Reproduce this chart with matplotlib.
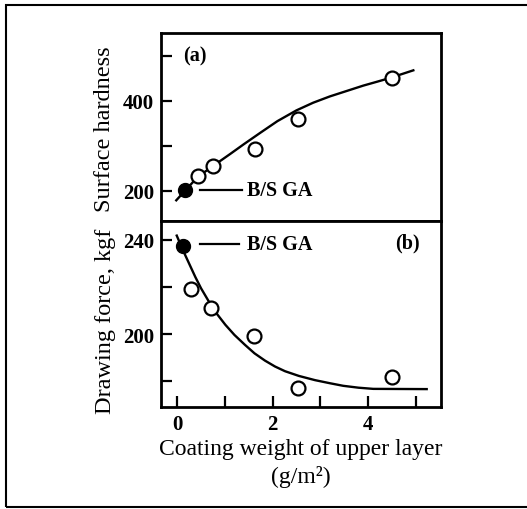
import matplotlib
matplotlib.use("Agg")
import matplotlib.pyplot as plt
from matplotlib.patches import Rectangle

# ---- data ----
# (a) surface hardness
bsga_a_x = [0.17]
bsga_a_y = [201]
hard_x = [0.43, 0.75, 1.63, 2.54, 4.50]
hard_y = [234, 255, 293, 360, 450]
hard_fit_x = [-0.02, 0.17, 0.43, 0.76, 1.11, 1.40, 1.74, 2.10, 2.50, 2.85,
              3.20, 3.55, 3.90, 4.20, 4.46, 4.95]
hard_fit_y = [179, 201, 231, 256, 282, 304, 329, 355, 379, 396,
              410, 422, 434, 443, 451, 468]

# (b) drawing force
bsga_b_x = [0.13]
bsga_b_y = [237.3]
force_x = [0.29, 0.71, 1.60, 2.54, 4.51]
force_y = [219.0, 211.0, 199.3, 177.1, 181.6]
force_fit_x = [-0.01, 0.08, 0.17, 0.38, 0.50, 0.66, 0.83, 1.01, 1.20, 1.42,
               1.62, 1.84, 2.05, 2.26, 2.55, 2.89, 3.20, 3.48, 3.80, 4.11, 5.23]
force_fit_y = [241.8, 237.5, 233.4, 224.2, 219.4, 213.9, 208.6, 203.9, 199.6, 195.4,
               191.8, 188.7, 186.2, 184.2, 182.2, 180.4, 179.1, 178.0, 177.2, 176.7, 176.6]

x_major = [0, 2, 4]
x_minor = [1, 3, 5]
a_major = [200, 400]
a_minor = [300, 500]
b_major = [200, 240]
b_minor = [180, 220]

plt.rcParams['font.family'] = ['Liberation Serif', 'DejaVu Serif']

W, H = 527, 510
fig = plt.figure(figsize=(W / 100, H / 100), dpi=100)

def frac(x0, y0, x1, y1):
    return [x0 / W, 1 - y1 / H, (x1 - x0) / W, (y1 - y0) / H]

ax1 = fig.add_axes(frac(161, 34, 441, 222))
ax2 = fig.add_axes(frac(161, 222, 441, 408))

for ax in (ax1, ax2):
    for s in ax.spines.values():
        s.set_linewidth(2.0)
    ax.set_xlim(-0.34, 5.53)
    ax.tick_params(which='both', direction='in', length=8, width=1.6,
                   labelsize=15, pad=5)
    ax.tick_params(top=False, right=False)

ax1.set_ylim(133, 551)
ax2.set_ylim(169, 248)

# ticks
ax1.set_xticks([])
ax1.set_yticks(a_major)
ax1.set_yticks(a_minor, minor=True)
ax2.set_xticks(x_major)
ax2.set_xticks(x_minor, minor=True)
ax2.set_yticks(b_major)
ax2.set_yticks(b_minor, minor=True)
for ax in (ax1, ax2):
    for lab in ax.get_xticklabels() + ax.get_yticklabels():
        lab.set_fontweight('bold')

# (a)
ax1.plot(hard_fit_x, hard_fit_y, color='black', lw=1.7, solid_joinstyle='round')
ax1.plot(hard_x, hard_y, 'o', ms=10, mfc='white', mec='black', mew=1.6)
ax1.plot(bsga_a_x, bsga_a_y, 'o', ms=10, mfc='black', mec='black')
ax1.plot([0.48, 1.36], [bsga_a_y[0], bsga_a_y[0]], color='black', lw=1.6)
ax1.text(1.46, bsga_a_y[0], 'B/S GA', fontsize=14.5, fontweight='bold',
         ha='left', va='center')
ax1.text(0.13, 502, '(a)', fontsize=14.5, fontweight='bold', ha='left', va='center')

# (b)
ax2.plot(force_fit_x, force_fit_y, color='black', lw=1.7, solid_joinstyle='round')
ax2.plot(force_x, force_y, 'o', ms=10, mfc='white', mec='black', mew=1.6)
ax2.plot(bsga_b_x, bsga_b_y, 'o', ms=10, mfc='black', mec='black')
ax2.plot([0.48, 1.30], [238.3, 238.3], color='black', lw=1.6)
ax2.text(1.46, 238.3, 'B/S GA', fontsize=14.5, fontweight='bold',
         ha='left', va='center')
ax2.text(5.09, 239, '(b)', fontsize=14.5, fontweight='bold', ha='right', va='center')

# labels
fig.text(105 / W, 1 - 129 / H, 'Surface hardness', rotation=90,
         ha='center', va='center', fontsize=17.5)
fig.text(105 / W, 1 - 321 / H, 'Drawing force, kgf', rotation=90,
         ha='center', va='center', fontsize=17.5)
fig.text(301 / W, 1 - 450 / H, 'Coating weight of upper layer',
         ha='center', va='center', fontsize=17)
fig.text(301 / W, 1 - 477 / H, '(g/m²)',
         ha='center', va='center', fontsize=17)

# outer frame
fig.patches.append(Rectangle((6 / W, 1 - 508 / H), 1.2, (508 - 6) / H,
                             transform=fig.transFigure, fill=False,
                             edgecolor='black', lw=1.5, clip_on=False))

fig.savefig('out.png', dpi=100)
